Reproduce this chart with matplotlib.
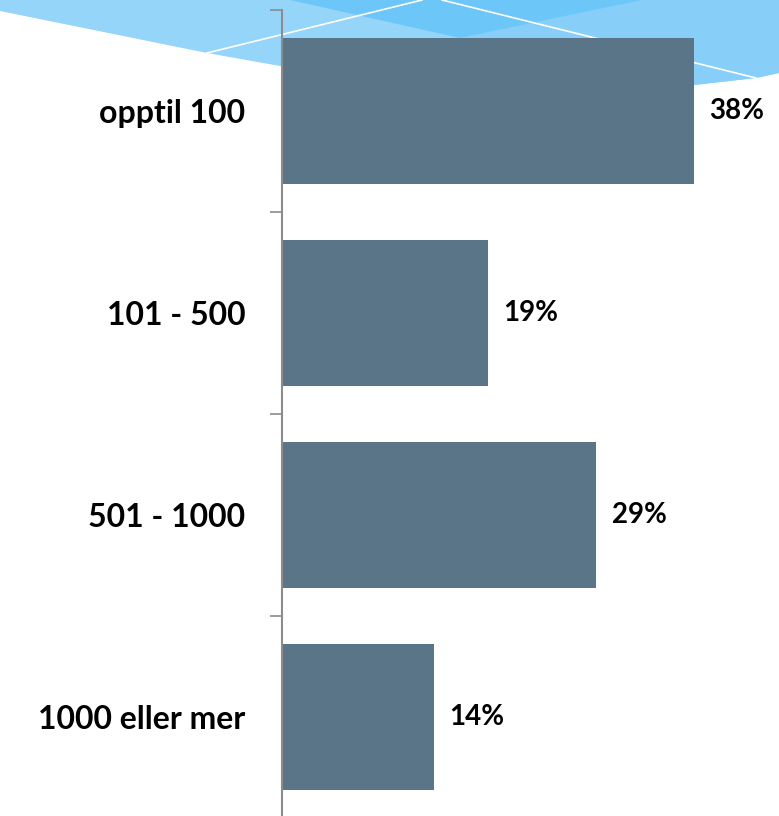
import matplotlib
matplotlib.use("Agg")
import matplotlib.pyplot as plt
from matplotlib.patches import Polygon
import numpy as np

categories = ["opptil 100", "101 - 500", "501 - 1000", "1000 eller mer"]
values = [38, 19, 29, 14]
value_labels = ["38%", "19%", "29%", "14%"]

W, H = 779, 816
fig = plt.figure(figsize=(W / 100, H / 100), dpi=100)
fig.patch.set_facecolor("white")

# decorative background swoosh (pixel coordinates)
bg = fig.add_axes([0, 0, 1, 1], zorder=0)
bg.set_xlim(0, W)
bg.set_ylim(H, 0)
bg.axis("off")
cx = [0, 207, 280, 400, 500, 649, 694, 756, 779]
cy = [11, 53, 66, 80, 86, 88, 85, 78, 73]
xs = np.linspace(0, W, 120)
lower = np.interp(xs, cx, cy)
poly = np.vstack([np.column_stack([xs, lower]), [[W, 0], [0, 0]]])
bg.add_patch(Polygon(poly, closed=True, fc="#95D5F9", ec="none"))
rx = np.linspace(W, 560, 30)
right = np.vstack([[[642, 0], [W, 0]], np.column_stack([rx, np.interp(rx, cx, cy)]), [[460, 38]]])
bg.add_patch(Polygon(right, closed=True, fc="#87CFF8", ec="none"))
bg.add_patch(Polygon([[290, 0], [642, 0], [460, 38]], closed=True, fc="#6DC6F8", ec="none"))
bg.plot([207, 422], [53, 0], color="white", lw=1.2)
bg.plot([442, 756], [0, 78], color="white", lw=1.2)

# main bar chart
ax = fig.add_axes([282 / W, (H - 818) / H, 1 - 282 / W, 808 / H], zorder=1)
ax.patch.set_alpha(0)
y = np.arange(len(categories))
ax.barh(y, values, height=0.72, color="#5A7587", edgecolor="none")
ax.set_xlim(0, (W - 282) / 10.84)
ax.set_ylim(len(categories) - 0.5, -0.5)
for s in ["top", "right", "bottom"]:
    ax.spines[s].set_visible(False)
ax.spines["left"].set_color("#8C8C8C")
ax.spines["left"].set_linewidth(1.5)
ax.set_xticks([])
ax.set_yticks(y)
ax.set_yticklabels(categories, fontsize=23, fontweight="bold", family="Lato")
ax.tick_params(axis="y", which="major", length=0, pad=26.5)
ax.set_yticks(np.arange(len(categories)) - 0.5, minor=True)
ax.tick_params(axis="y", which="minor", length=9, width=1.2, color="#8C8C8C", direction="out")

for yi, v, lab in zip(y, values, value_labels):
    ax.text(v + 1.4, yi, lab, va="center", ha="left", fontsize=20, fontweight="bold", family="Lato")

fig.savefig("out.png", dpi=100)
